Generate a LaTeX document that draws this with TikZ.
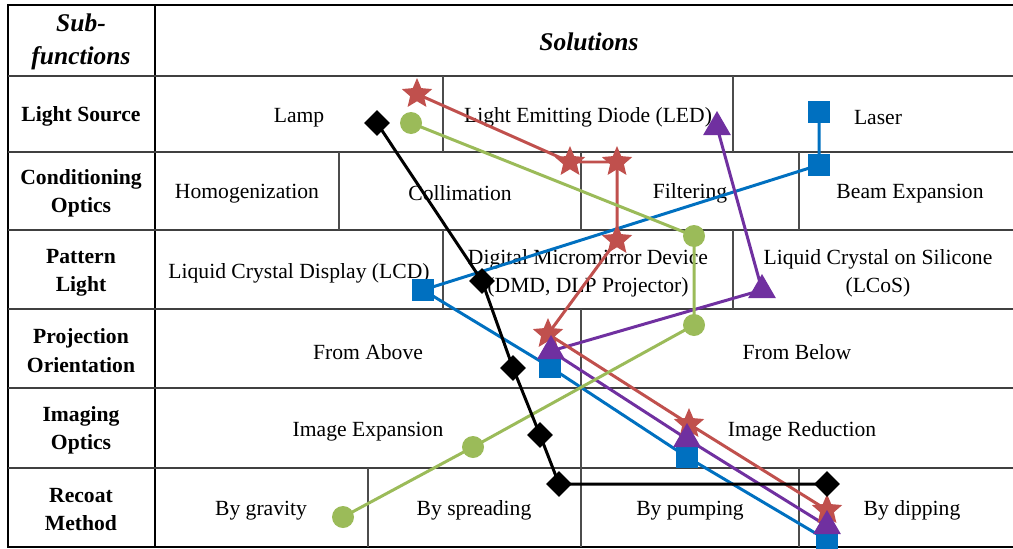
\documentclass[tikz,border=0pt]{standalone}
\usepackage{fontspec}
\setmainfont{Liberation Serif}
\usepackage{xcolor}
\usetikzlibrary{shapes.geometric}
\pgfdeclarelayer{fore}
\pgfsetlayers{main,fore}
\definecolor{ledred}{HTML}{C0504D}
\definecolor{lampgreen}{HTML}{9BBB59}
\definecolor{laserblue}{HTML}{0070C0}
\definecolor{lcospurple}{HTML}{7030A0}

\begin{document}
\begin{tikzpicture}[x=0.02cm, y=-0.02cm,
  every node/.style={font=\fontsize{12.3}{16}\selectfont},
  cell/.style={align=center, inner sep=1pt, yshift=-2pt},
  sub/.style={align=center, inner sep=1pt, yshift=-1.5pt, font=\fontsize{12.3}{16}\selectfont\bfseries},
  head/.style={align=center, inner sep=1pt, font=\fontsize{14.5}{19}\selectfont\bfseries\itshape},
  rowline/.style={line width=1.1pt, black!75},
  colline/.style={line width=0.6pt, black!70},
  route/.style={line width=1.7pt},
  starmk/.style={star, star points=5, star point ratio=2.2, minimum size=0.64cm, inner sep=0pt, fill=ledred},
  dotmk/.style={circle, minimum size=0.44cm, inner sep=0pt, fill=lampgreen},
  diamk/.style={diamond, minimum size=0.52cm, inner sep=0pt, fill=black},
  sqmk/.style={rectangle, minimum size=0.44cm, inner sep=0pt, fill=laserblue},
  trimk/.style={regular polygon, regular polygon sides=3, minimum size=0.64cm, inner sep=0pt, fill=lcospurple}]
\useasboundingbox (0,0) rectangle (1013,548);

% table grid
\draw[line width=1.4pt] (1013,5) -- (8,5) -- (8,547) -- (1013,547);
\draw[line width=1.2pt] (155,5) -- (155,547);
\foreach \y in {76,152,230,309,388,468} \draw[rowline] (8,\y) -- (1013,\y);
\draw[colline] (443,76) -- (443,152) (733,76) -- (733,152)
  (339,152) -- (339,230) (581,152) -- (581,230) (799,152) -- (799,230)
  (443,230) -- (443,309) (733,230) -- (733,309)
  (581,309) -- (581,468)
  (368,468) -- (368,547) (581,468) -- (581,547) (799,468) -- (799,547);

% headings
\node[head] (subfn) at (81,42) {Sub-\\functions};
\node[head] (sols) at (589,42) {Solutions};
\node[sub] (lsrc) at (81,114) {Light Source};
\node[sub] (copt) at (81,191) {Conditioning\\Optics};
\node[sub] (plig) at (81,270) {Pattern\\Light};
\node[sub] (pori) at (81,348) {Projection\\Orientation};
\node[sub] (iopt) at (81,428) {Imaging\\Optics};
\node[sub] (rmet) at (81,507) {Recoat\\Method};

% solutions
\node[cell] (lamp) at (299,114) {Lamp};
\node[cell] (led) at (588,114) {Light Emitting Diode (LED)};
\node[cell] (laser) at (878,114) {Laser};
\node[cell] (homog) at (247,190) {Homogenization};
\node[cell] (colli) at (460,190) {Collimation};
\node[cell] (filt) at (690,190) {Filtering};
\node[cell] (beam) at (910,190) {Beam Expansion};
\node[cell] (lcd) at (299,270) {Liquid Crystal Display (LCD)};
\node[cell] (dmd) at (588,270) {Digital Micromirror Device\\(DMD, DLP Projector)};
\node[cell] (lcos) at (878,270) {Liquid Crystal on Silicone\\(LCoS)};
\node[cell] (above) at (368,349) {From Above};
\node[cell] (below) at (797,349) {From Below};
\node[cell] (expan) at (368,428) {Image Expansion};
\node[cell] (reduc) at (802,428) {Image Reduction};
\node[cell] (gravity) at (261,507) {By gravity};
\node[cell] (spread) at (474,507) {By spreading};
\node[cell] (pump) at (690,507) {By pumping};
\node[cell] (dip) at (912,507) {By dipping};

% concept markers
\begin{pgfonlayer}{fore}
\node[starmk] (r1) at (417,94) {};
\node[starmk] (r2) at (570,162) {};
\node[starmk] (r3) at (617,162) {};
\node[starmk] (r4) at (617,240) {};
\node[starmk] (r5) at (548,334) {};
\node[starmk] (r6) at (689,424) {};
\node[starmk] (r7) at (827,510) {};
\node[dotmk] (g1) at (411,123) {};
\node[dotmk] (g2) at (694,236) {};
\node[dotmk] (g3) at (694,325) {};
\node[dotmk] (g4) at (473,447) {};
\node[dotmk] (g5) at (343,517) {};
\node[sqmk] (b1) at (819,112) {};
\node[sqmk] (b2) at (819,165) {};
\node[sqmk] (b3) at (423,290) {};
\node[sqmk] (b4) at (550,367) {};
\node[sqmk] (b5) at (687,457) {};
\node[sqmk] (b6) at (827,540) {};
\node[trimk] (p1) at (717,127) {};
\node[trimk] (p2) at (762,290) {};
\node[trimk] (p3) at (551,351) {};
\node[trimk] (p4) at (687,439) {};
\node[trimk] (p5) at (827,526) {};
\node[diamk] (k1) at (377,123) {};
\node[diamk] (k2) at (482,281) {};
\node[diamk] (k3) at (513,368) {};
\node[diamk] (k4) at (540,435) {};
\node[diamk] (k5) at (559,484) {};
\node[diamk] (k6) at (827,484) {};
\end{pgfonlayer}

\draw[route,laserblue] (b1.center) -- (b2.center) -- (b3.center) -- (b4.center) -- (b5.center) -- (b6.center);
\draw[route,lcospurple] (p1.center) -- (p2.center) -- (p3.center) -- (p4.center) -- (p5.center);
\draw[route,ledred] (r1.center) -- (r2.center) -- (r3.center) -- (r4.center) -- (r5.center) -- (r6.center) -- (r7.center);
\draw[route,lampgreen] (g1.center) -- (g2.center) -- (g3.center) -- (g4.center) -- (g5.center);
\draw[route,black] (k1.center) -- (k2.center) -- (k3.center) -- (k4.center) -- (k5.center) -- (k6.center);
\end{tikzpicture}
\end{document}
